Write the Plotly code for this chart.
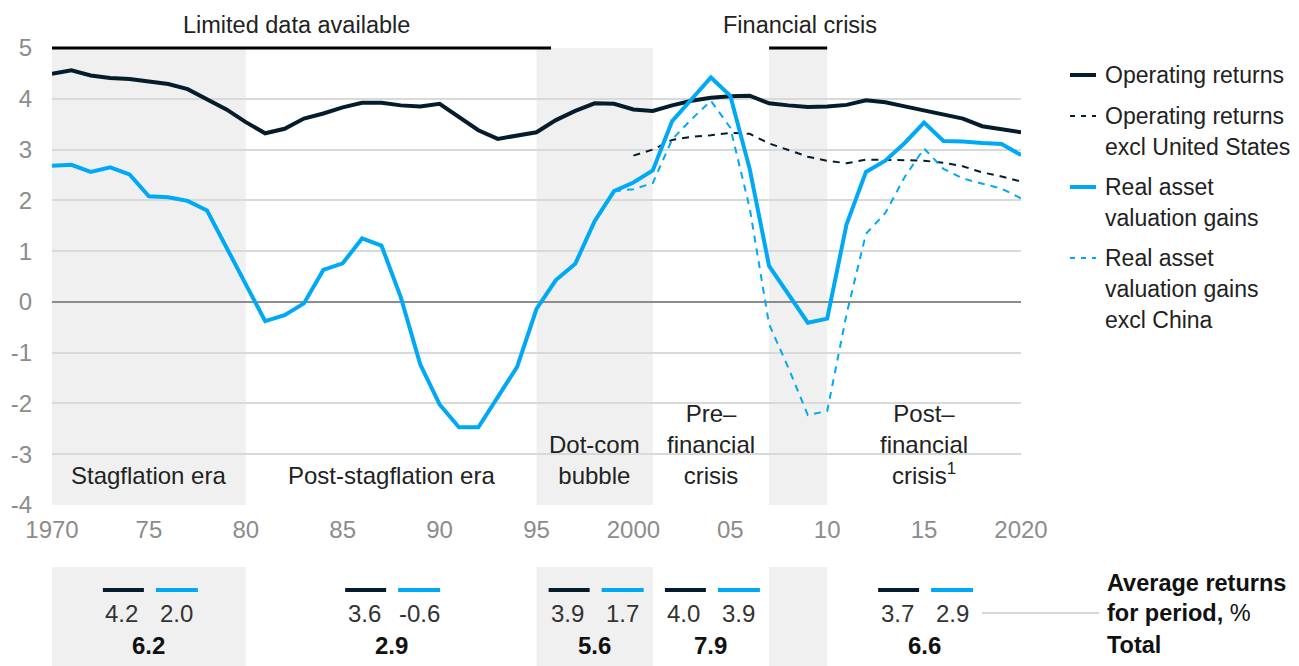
import plotly.graph_objects as go

# data (% per year)
years = list(range(1970, 2021))

operating_returns = [4.49, 4.56, 4.46, 4.41, 4.39, 4.34, 4.29, 4.19, 3.99, 3.79,
                     3.54, 3.32, 3.41, 3.61, 3.71, 3.83, 3.92, 3.92, 3.87, 3.85,
                     3.90, 3.65, 3.38, 3.21, 3.28, 3.34, 3.58, 3.76, 3.91, 3.90,
                     3.79, 3.76, 3.87, 3.96, 4.02, 4.05, 4.06, 3.91, 3.87, 3.84,
                     3.85, 3.88, 3.97, 3.93, 3.85, 3.77, 3.70, 3.61, 3.46, 3.40, 3.34]

valuation_gains = [2.68, 2.70, 2.56, 2.65, 2.51, 2.08, 2.06, 1.99, 1.80, 1.08,
                   0.35, -0.38, -0.26, -0.03, 0.63, 0.76, 1.25, 1.11, 0.09, -1.23,
                   -2.02, -2.47, -2.47, -1.89, -1.28, -0.14, 0.43, 0.75, 1.59, 2.18,
                   2.35, 2.59, 3.56, 3.99, 4.42, 4.06, 2.62, 0.71, 0.15, -0.41,
                   -0.33, 1.53, 2.56, 2.78, 3.13, 3.53, 3.17, 3.16, 3.13, 3.11, 2.89]

years_excl_us = list(range(2000, 2021))
operating_excl_us = [2.88, 3.00, 3.19, 3.25, 3.28, 3.33, 3.31, 3.12, 2.99, 2.86,
                     2.78, 2.73, 2.80, 2.80, 2.79, 2.78, 2.74, 2.67, 2.55, 2.47, 2.37]

years_excl_china = list(range(1999, 2021))
valuation_excl_china = [2.18, 2.22, 2.34, 3.20, 3.60, 3.96, 3.43, 1.85, -0.44, -1.30,
                        -2.23, -2.15, -0.24, 1.34, 1.75, 2.46, 3.02, 2.62, 2.43, 2.33,
                        2.23, 2.04]

# periods
period_labels = ['Stagflation era', 'Post-stagflation era', 'Dot-com<br>bubble',
                 'Pre–<br>financial<br>crisis', 'Post–<br>financial<br>crisis<sup>1</sup>']
period_start = [1970, 1980, 1995, 2001, 2010]
period_end = [1980, 1995, 2001, 2007, 2020]
avg_operating = [4.2, 3.6, 3.9, 4.0, 3.7]
avg_valuation = [2.0, -0.6, 1.7, 3.9, 2.9]
avg_total = [6.2, 2.9, 5.6, 7.9, 6.6]

shaded = [(1970, 1980), (1995, 2001), (2007, 2010)]
top_notes = [('Limited data available', 1970, 1995.75, 1982.6),
             ('Financial crisis', 2007, 2010, 2008.6)]

x_ticks = [1970, 1975, 1980, 1985, 1990, 1995, 2000, 2005, 2010, 2015, 2020]
x_ticktext = ['1970', '75', '80', '85', '90', '95', '2000', '05', '10', '15', '2020']
y_ticks = [5, 4, 3, 2, 1, 0, -1, -2, -3, -4]
y_ticktext = ['5', '4', '3', '2', '1', '0', '-1', '-2', '-3', '-4']

DARK = '#051c2c'
BLUE = '#00a9f4'
SHADE = '#f0f0f0'
TICK = '#8c8c8c'
FONT = 'Liberation Sans, Arial, sans-serif'

# page body adds an 8px margin, so the figure is 8px smaller and shifted
OFF = 8
W, H = 1299 - OFF, 666 - OFF
PLOT_L, PLOT_R, PLOT_T, PLOT_B = 52, 1021, 48, 505  # plot box in reference pixels
ML, MT = PLOT_L - OFF, PLOT_T - OFF
MR, MB = W - (PLOT_R - OFF), H - (PLOT_B - OFF)


def px_x(p):
    return (p - PLOT_L) / (PLOT_R - PLOT_L)


def px_y(p):
    return (PLOT_B - p) / (PLOT_B - PLOT_T)


def note(text, x, y, xref='x', size=24, color='#222222', xanchor='center', yanchor='middle', **kw):
    return dict(text=text, xref=xref, yref='paper', x=x, y=y, showarrow=False,
                xanchor=xanchor, yanchor=yanchor, font=dict(size=size, color=color), **kw)


fig = go.Figure()
fig.add_trace(go.Scatter(x=years, y=operating_returns, mode='lines',
                         line=dict(color=DARK, width=4), name='Operating returns'))
fig.add_trace(go.Scatter(x=years_excl_us, y=operating_excl_us, mode='lines',
                         line=dict(color=DARK, width=2, dash='7px,6px'),
                         name='Operating returns excl United States'))
fig.add_trace(go.Scatter(x=years, y=valuation_gains, mode='lines',
                         line=dict(color=BLUE, width=4), name='Real asset valuation gains'))
fig.add_trace(go.Scatter(x=years_excl_china, y=valuation_excl_china, mode='lines',
                         line=dict(color=BLUE, width=2, dash='7px,6px'),
                         name='Real asset valuation gains excl China'))

shapes = []
annotations = []

# shaded periods, in the chart and in the averages strip
for a, b in shaded:
    shapes.append(dict(type='rect', xref='x', yref='paper', x0=a, x1=b, y0=0, y1=1,
                       fillcolor=SHADE, line_width=0, layer='below'))
    shapes.append(dict(type='rect', xref='x', yref='paper', x0=a, x1=b,
                       y0=px_y(567), y1=px_y(670), fillcolor=SHADE, line_width=0, layer='below'))

# top notes with black bars
for text, a, b, c in top_notes:
    shapes.append(dict(type='line', xref='x', yref='paper', x0=a, x1=b, y0=1, y1=1,
                       line=dict(color='#000000', width=3)))
    annotations.append(note(text, c, px_y(25), size=23.5))

# period labels and averages
for i, lab in enumerate(period_labels):
    c = (period_start[i] + period_end[i]) / 2
    annotations.append(note(lab, c, px_y(491), yanchor='bottom'))
    shapes.append(dict(type='line', xref='x', yref='paper', xsizemode='pixel', xanchor=c,
                       x0=-46, x1=-5, y0=px_y(590), y1=px_y(590),
                       line=dict(color=DARK, width=4)))
    shapes.append(dict(type='line', xref='x', yref='paper', xsizemode='pixel', xanchor=c,
                       x0=7, x1=49, y0=px_y(590), y1=px_y(590),
                       line=dict(color=BLUE, width=4)))
    annotations.append(note(f'{avg_operating[i]:.1f}', c, px_y(613), xshift=-27, color='#333333'))
    annotations.append(note(f'{avg_valuation[i]:.1f}', c, px_y(613), xshift=28, color='#333333'))
    annotations.append(note(f'<b>{avg_total[i]:.1f}</b>', c, px_y(645), color='#111111'))

# averages key
shapes.append(dict(type='line', xref='paper', yref='paper', x0=px_x(982), x1=px_x(1099),
                   y0=px_y(613), y1=px_y(613), line=dict(color='#c8c8c8', width=1.5)))
for text, py in [('<b>Average returns</b>', 583), ('<b>for period,</b> %', 613), ('<b>Total</b>', 645)]:
    annotations.append(note(text, px_x(1105), px_y(py), xref='paper', size=23.5,
                            color='#111111', xanchor='left'))

# legend
legend_items = [
    (['Operating returns'], 75, DARK, 4, 'solid'),
    (['Operating returns', 'excl United States'], 116, DARK, 2, '5px,6px'),
    (['Real asset', 'valuation gains'], 187, BLUE, 4, 'solid'),
    (['Real asset', 'valuation gains', 'excl China'], 258, BLUE, 2, '5px,6px'),
]
for lines, py, col, w, dash in legend_items:
    shapes.append(dict(type='line', xref='paper', yref='paper', x0=px_x(1070), x1=px_x(1096),
                       y0=px_y(py), y1=px_y(py), line=dict(color=col, width=w, dash=dash)))
    for j, t in enumerate(lines):
        annotations.append(note(t, px_x(1103), px_y(py + 31 * j), xref='paper',
                                size=23, xanchor='left'))

fig.update_layout(width=W, height=H, margin=dict(l=ML, r=MR, t=MT, b=MB, pad=0),
                  plot_bgcolor='white', paper_bgcolor='white', showlegend=False,
                  font=dict(family=FONT, size=24, color=TICK),
                  shapes=shapes, annotations=annotations)
fig.update_xaxes(range=[1970, 2020], tickvals=x_ticks, ticktext=x_ticktext,
                 showgrid=False, zeroline=False, showline=False, automargin=False,
                 ticks='outside', ticklen=3, tickcolor='rgba(0,0,0,0)',
                 tickfont=dict(size=24, color=TICK))
fig.update_yaxes(range=[-4, 5], tickvals=y_ticks, ticktext=y_ticktext,
                 showgrid=True, gridcolor='#d9d9d9', gridwidth=1.5, automargin=False,
                 zeroline=True, zerolinecolor='#8c8c8c', zerolinewidth=2,
                 showline=False, ticks='outside', ticklen=14,
                 tickcolor='rgba(0,0,0,0)', tickfont=dict(size=24, color=TICK))

fig.write_html('out.html')
